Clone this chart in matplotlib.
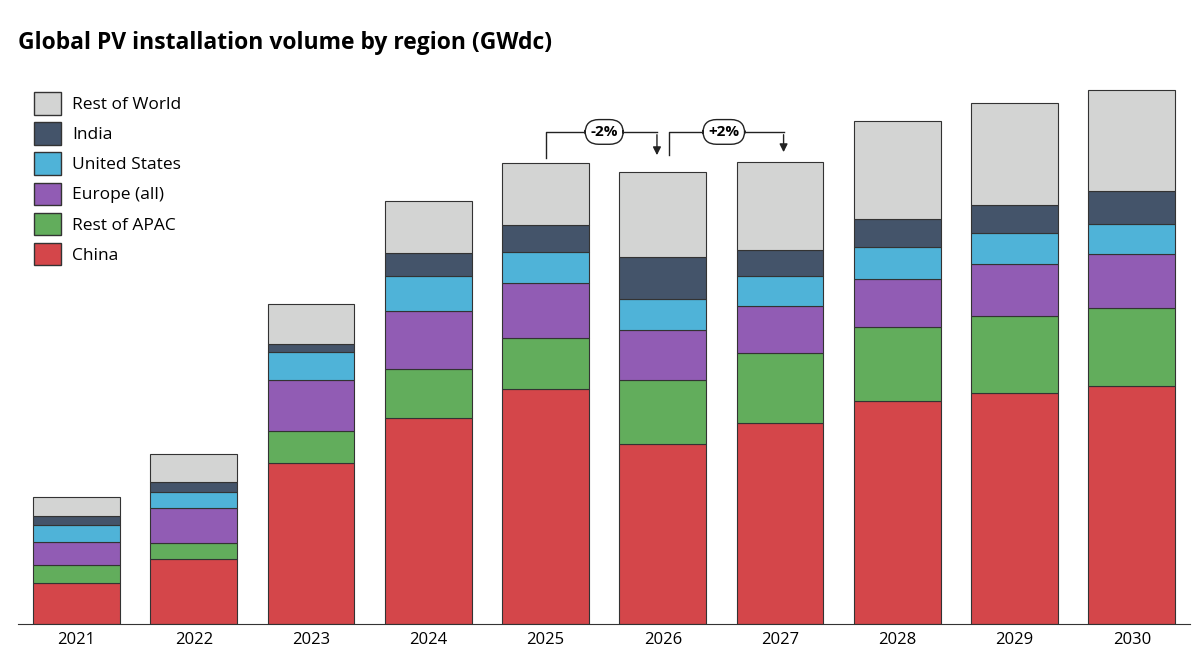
import matplotlib
matplotlib.use("Agg")
import matplotlib.pyplot as plt
from matplotlib.patches import Patch
import numpy as np

plt.rcParams['font.family'] = ['Open Sans', 'DejaVu Sans']

years = ['2021','2022','2023','2024','2025','2026','2027','2028','2029','2030']
china  = [41, 65, 161, 206, 235, 180, 201, 223, 231, 238]
apac   = [18, 16, 32, 49, 51, 64, 70, 74, 77, 78]
europe = [23, 35, 51, 58, 55, 50, 47, 48, 52, 54]
us     = [17, 16, 28, 35, 31, 31, 30, 32, 31, 30]
india  = [9, 10, 8, 23, 27, 42, 26, 28, 28, 33]
row    = [19, 28, 40, 52, 62, 85, 88, 98, 102, 101]

series = [('China', china, '#d4464a'), ('Rest of APAC', apac, '#62ad5c'),
          ('Europe (all)', europe, '#915cb4'), ('United States', us, '#4fb3d8'),
          ('India', india, '#44546a'), ('Rest of World', row, '#d3d4d3')]

fig = plt.figure(figsize=(12, 6.66), dpi=100)
ax = fig.add_axes([0.015, 0.063, 0.977, 0.817])
x = np.arange(len(years))
bottom = np.zeros(len(years))
for name, vals, col in series:
    ax.bar(x, vals, 0.74, bottom=bottom, color=col, edgecolor='#333333', linewidth=0.8, label=name)
    bottom += np.array(vals)
totals = bottom

ax.set_xlim(-0.5, 9.5)
ax.set_ylim(0, 544)
for s in ['top', 'right', 'left']:
    ax.spines[s].set_visible(False)
ax.spines['bottom'].set_color('#333333')
ax.set_yticks([])
ax.set_xticks(x)
ax.set_xticklabels(years, fontsize=12)
ax.tick_params(axis='x', length=0, pad=6)

def bracket(i0, x0, x1, y0, label, xl):
    top = 492
    ax.plot([x0, x0, x1], [y0, top, top], color='#222222', lw=1)
    ax.annotate('', xy=(x1, y0), xytext=(x1, top),
                arrowprops=dict(arrowstyle='-|>', color='#222222', lw=1, mutation_scale=12))
    ax.text(xl, top, label, ha='center', va='center', fontsize=11, fontweight='bold',
            bbox=dict(boxstyle='round,pad=0.35,rounding_size=0.9', fc='white', ec='#222222', lw=1))

bracket(4, 4.0, 4.95, totals[4] + 5, '-2%', 4.5)
bracket(5, 5.05, 6.03, totals[6] + 7, '+2%', 5.52)

handles = [Patch(facecolor=c, edgecolor='#333333', label=n) for n, v, c in series[::-1]]
fig.legend(handles=handles, loc='upper left', bbox_to_anchor=(0.015, 0.885), frameon=False,
           fontsize=12.5, handlelength=1.6, handleheight=1.6, labelspacing=0.45, handletextpad=0.6)

fig.text(0.015, 0.935, 'Global PV installation volume by region (GWdc)', fontsize=16.5,
         fontweight='bold', va='center', ha='left')

fig.savefig('out.png', dpi=100)
